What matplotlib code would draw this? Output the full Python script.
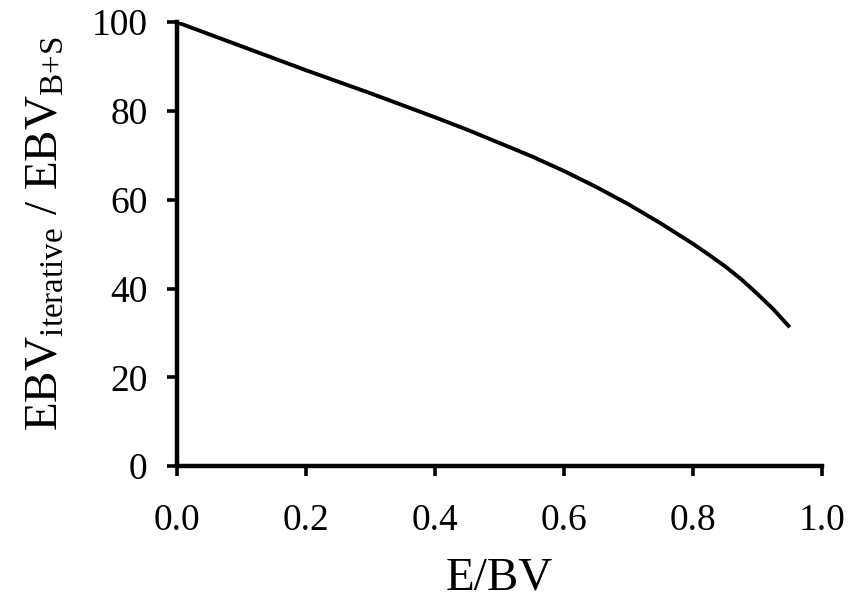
import matplotlib
matplotlib.use("Agg")
import matplotlib.pyplot as plt

# ratio of EBV (iterative vs B+S) against E/BV
ebv_ratio_x = [0.0, 0.05, 0.1, 0.15, 0.2, 0.25, 0.3, 0.35, 0.4, 0.45, 0.5,
               0.55, 0.6, 0.65, 0.7, 0.75, 0.8, 0.825, 0.85, 0.875, 0.9,
               0.925, 0.95]
ebv_ratio_y = [100, 97.3, 94.6, 91.9, 89.2, 86.6, 84.0, 81.3, 78.6, 75.8, 72.8,
               69.8, 66.5, 62.9, 59.0, 54.7, 50.1, 47.6, 45.0, 42.1, 38.8,
               35.3, 31.3]

x_ticks = [0.0, 0.2, 0.4, 0.6, 0.8, 1.0]
y_ticks = [0, 20, 40, 60, 80, 100]

plt.rcParams['font.family'] = ['Liberation Serif', 'DejaVu Serif']
plt.rcParams['mathtext.fontset'] = 'custom'
plt.rcParams['mathtext.rm'] = 'Liberation Serif'
plt.rcParams['mathtext.it'] = 'Liberation Serif:italic'

fig = plt.figure(figsize=(8.58, 6.0), dpi=100)
ax = fig.add_axes([0.206, 0.223, 0.752, 0.740])

ax.plot(ebv_ratio_x, ebv_ratio_y, color='black', lw=2.8, solid_capstyle='butt',
        solid_joinstyle='round')

ax.set_xlim(0, 1.0)
ax.set_ylim(0, 100)
ax.set_xticks(x_ticks)
ax.set_xticklabels([f"{v:.1f}" for v in x_ticks])
ax.set_yticks(y_ticks)
ax.set_yticklabels([str(v) for v in y_ticks])

for side in ['top', 'right']:
    ax.spines[side].set_visible(False)
for side in ['left', 'bottom']:
    ax.spines[side].set_linewidth(3.2)
    ax.spines[side].set_capstyle('projecting')

ax.tick_params(direction='out', length=7, width=2.6, labelsize=27)
ax.tick_params(axis='x', pad=20)
ax.tick_params(axis='y', pad=14)

ax.set_xlabel('E/BV', fontsize=34)
ax.xaxis.set_label_coords(0.5, -0.205)
ax.set_ylabel(r'EBV$_{\mathrm{iterative}}$ / EBV$_{\text{B+S}}$', fontsize=34)
ax.yaxis.set_label_coords(-0.169, 0.525)

fig.savefig('out.png', dpi=100)
